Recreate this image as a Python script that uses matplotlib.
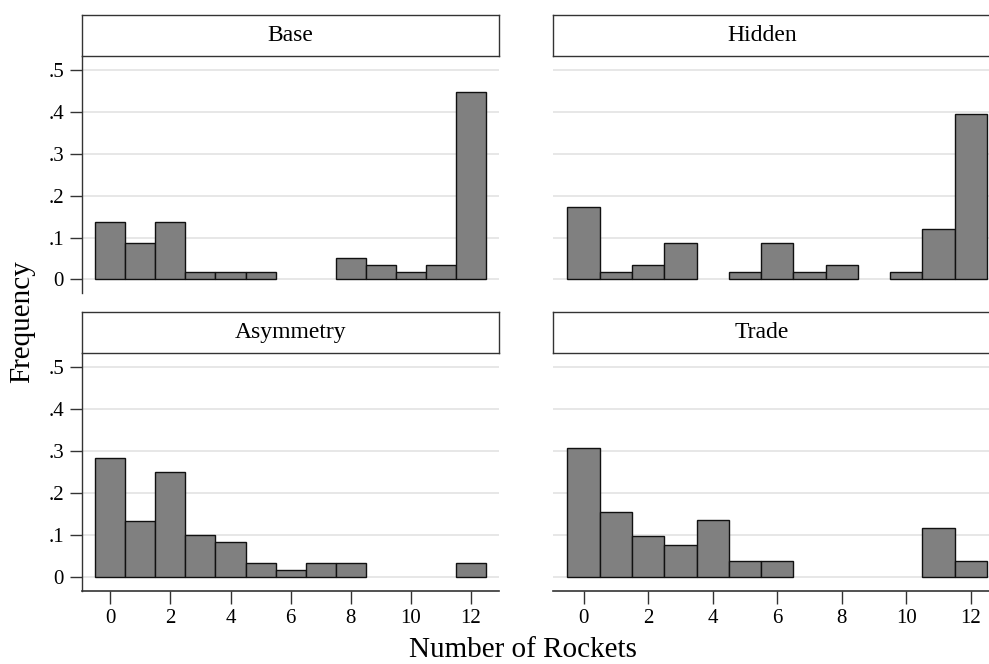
import matplotlib.pyplot as plt
import numpy as np

plt.rcParams['font.family'] = ['Liberation Serif', 'DejaVu Serif']

# rocket counts 0..12, frequency per treatment
rockets = np.arange(0, 13)
base = [8/58, 5/58, 8/58, 1/58, 1/58, 1/58, 0, 0, 3/58, 2/58, 1/58, 2/58, 26/58]
hidden = [10/58, 1/58, 2/58, 5/58, 0, 1/58, 5/58, 1/58, 2/58, 0, 1/58, 7/58, 23/58]
asymmetry = [17/60, 8/60, 15/60, 6/60, 5/60, 2/60, 1/60, 2/60, 2/60, 0, 0, 0, 2/60]
trade = [16/52, 8/52, 5/52, 4/52, 7/52, 2/52, 2/52, 0, 0, 0, 0, 6/52, 2/52]

panel_names = ['Base', 'Hidden', 'Asymmetry', 'Trade']
panel_data = [base, hidden, asymmetry, trade]
yticks = [0, 0.1, 0.2, 0.3, 0.4, 0.5]
ytick_labels = ['0', '.1', '.2', '.3', '.4', '.5']
xticks = [0, 2, 4, 6, 8, 10, 12]

W, H = 989, 664
fig = plt.figure(figsize=(W / 100, H / 100), dpi=100)

def px_rect(x0, y0, x1, y1):
    # pixel box (top-left origin) -> figure fraction
    return [x0 / W, 1 - y1 / H, (x1 - x0) / W, (y1 - y0) / H]

cols = [(82, 499.3), (553.3, 1001)]
rows = [(15, 56, 293.3), (312.3, 352.7, 590.7)]

for k in range(4):
    r, c = divmod(k, 2)
    x0, x1 = cols[c]
    s0, p0, p1 = rows[r]

    ax = fig.add_axes(px_rect(x0, p0, x1, p1))
    vals = np.array(panel_data[k])
    keep = vals > 0   # empty bins get no bar
    ax.bar(rockets[keep], vals[keep], width=1.0, color='#808080',
           edgecolor='#111111', linewidth=1.0, zorder=3)
    ax.set_xlim(-0.94, 12.94)
    ax.set_ylim(-0.033, 0.534)
    for yv in yticks:
        ax.axhline(yv, color='#e3e3e3', linewidth=1.2, zorder=1)
    for s in ['top', 'right']:
        ax.spines[s].set_visible(False)
    ax.spines['left'].set_linewidth(1.0)
    ax.spines['bottom'].set_linewidth(1.2)
    ax.spines['left'].set_color('#333333')
    ax.spines['bottom'].set_color('#333333')

    if c == 0:
        ax.set_yticks(yticks)
        ax.set_yticklabels(ytick_labels)
        ax.tick_params(axis='y', length=9, width=1.0, pad=4, labelsize=15, color='#333333')
    else:
        ax.spines['left'].set_visible(False)
        ax.set_yticks([])

    if r == 1:
        ax.set_xticks(xticks)
        ax.tick_params(axis='x', length=9, width=1.0, pad=4, labelsize=15, color='#333333')
    else:
        ax.spines['bottom'].set_visible(False)
        ax.set_xticks([])

    # strip header
    sax = fig.add_axes(px_rect(x0, s0, x1, p0))
    sax.set_xticks([])
    sax.set_yticks([])
    for s in sax.spines.values():
        s.set_linewidth(1.0)
        s.set_color('#333333')
    sax.text((499.3 - 82) / 2 / (x1 - x0), 0.5, panel_names[k],
             ha='center', va='center', fontsize=17, transform=sax.transAxes)

fig.text(523 / W, 1 - 650 / H, 'Number of Rockets', ha='center', va='center', fontsize=21)
fig.text(22 / W, 1 - 322 / H, 'Frequency', ha='center', va='center', rotation=90, fontsize=21)

fig.savefig('out.png', dpi=100)
